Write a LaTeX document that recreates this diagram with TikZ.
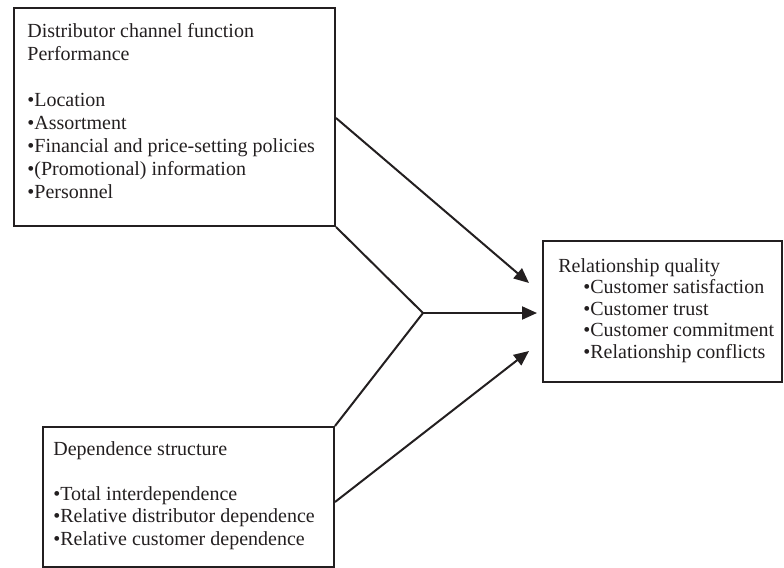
\documentclass[tikz,border=0pt]{standalone}
\usepackage{fontspec}
\setmainfont{Liberation Serif}
\usepackage{xcolor}
\definecolor{ink}{RGB}{35,31,32}
\usetikzlibrary{arrows.meta, calc}

\begin{document}
\begin{tikzpicture}[
    x=0.5pt, y=-0.5pt,
    frame/.style={rectangle, draw=ink, line width=1pt, inner sep=0pt, anchor=north west},
    label/.style={anchor=north west, inner sep=0pt, align=left, text=ink},
    line/.style={draw=ink, line width=1pt},
    arrow/.style={draw=ink, line width=1pt, -{Triangle[length=7.5pt, width=6.5pt]}}
]
\useasboundingbox (0,0) rectangle (784,568);

% boxes
\node [frame, minimum width=160.5pt, minimum height=109pt] (perf) at (13,7) {};
\node [frame, minimum width=119.5pt, minimum height=70.5pt] (quality) at (542,240) {};
\node [frame, minimum width=145.5pt, minimum height=70pt] (dep) at (42,426) {};

% texts
\node [label, font=\fontsize{10}{11.5}\selectfont] (perftext) at (27,23)
    {Distributor channel function\\Performance\\[11.5pt]%
     •Location\\•Assortment\\•Financial and price-setting policies\\%
     •(Promotional) information\\•Personnel};
\node [label, font=\fontsize{10}{10.75}\selectfont] (qualitytext) at (558,258)
    {Relationship quality\\\hspace*{12.5pt}•Customer satisfaction\\%
     \hspace*{12.5pt}•Customer trust\\\hspace*{12.5pt}•Customer commitment\\%
     \hspace*{12.5pt}•Relationship conflicts};
\node [label, font=\fontsize{10}{11.25}\selectfont] (deptext) at (53,441)
    {Dependence structure\\[11.25pt]•Total interdependence\\%
     •Relative distributor dependence\\•Relative customer dependence};

% connectors
\coordinate (perfout) at (perf.east |- 0,118);
\coordinate (depout) at (dep.east |- 0,502);
\coordinate (join) at (423,313);
\coordinate (tip1) at (529,283);
\coordinate (tip2) at (537,313);
\coordinate (tip3) at (529,351);

\path [arrow] (perfout) -- (tip1);
\path [line] (perf.south east) -- (join) -- (dep.north east);
\path [arrow] (join) -- (tip2);
\path [arrow] (depout) -- (tip3);

\end{tikzpicture}
\end{document}
